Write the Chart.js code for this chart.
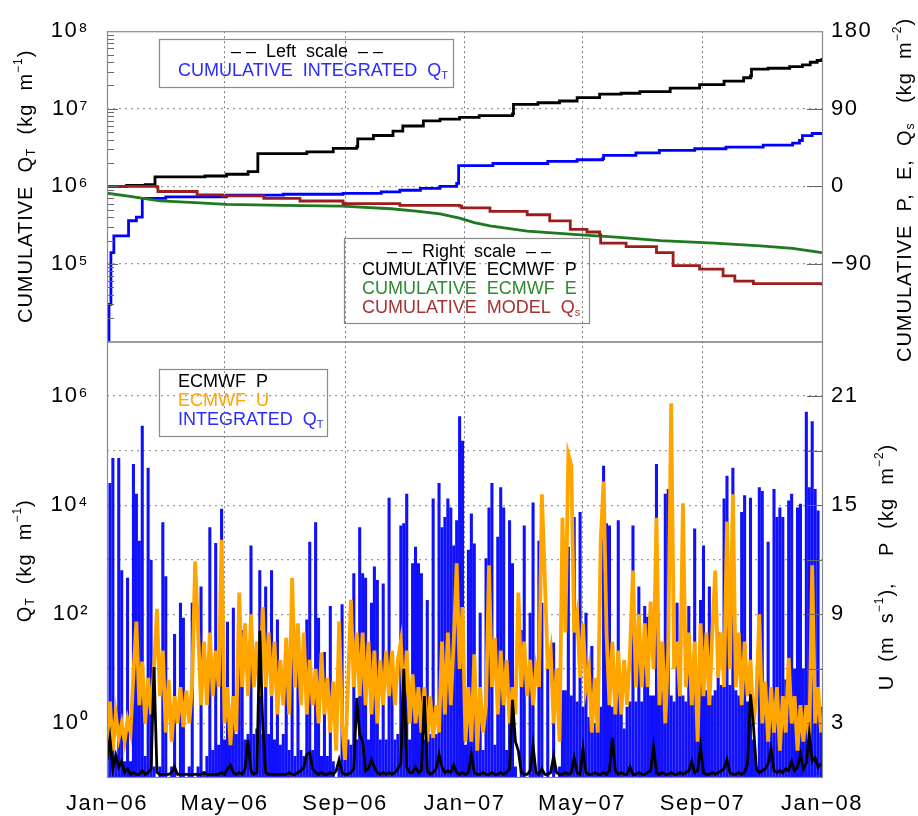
<!DOCTYPE html>
<html><head><meta charset="utf-8">
<script src="https://cdn.jsdelivr.net/npm/chart.js@4.4.1/dist/chart.umd.min.js"></script>
<style>html,body{margin:0;padding:0;background:#fff;}canvas{display:block;}</style>
</head><body>
<canvas id="c" width="918" height="816"></canvas>
<script>
const FONT = "'Liberation Sans', Arial, Helvetica, sans-serif";

// ---- x axis (days since 1 Jan 2006) ----
const xTickDays = [0, 120, 243, 365, 485, 608, 730];
const xTickLabels = ['Jan\u221206', 'May\u221206', 'Sep\u221206', 'Jan\u221207', 'May\u221207', 'Sep\u221207', 'Jan\u221208'];

// ---- axis ticks ----
const topLTickVals = [1e4, 1e5, 1e6, 1e7, 1e8];
const topLTickLabels = ['', '10\u2075', '10\u2076', '10\u2077', '10\u2078'];
const topRTickVals = [-180, -90, 0, 90, 180];
const topRTickLabels = ['', '\u221290', '0', '90', '180'];
const botLTickVals = [1e-1, 1e0, 1e1, 1e2, 1e3, 1e4, 1e5, 1e6, 1e7];
const botLTickLabels = ['', '10\u2070', '', '10\u00B2', '', '10\u2074', '', '10\u2076', ''];
const botRTickVals = [0, 3, 6, 9, 12, 15, 18, 21, 24];
const botRTickLabels = ['', '3', '', '9', '', '15', '', '21', ''];

// ---- top panel: cumulative series (day where the value starts, value) ----
const cumQDays = [0, 2, 4, 7, 22, 30, 36, 60, 122, 180, 241, 280, 299, 320, 340, 357, 359, 394, 450, 480, 506, 507, 540, 564, 600, 632, 670, 700, 707, 710, 720, 730];
const cumQ = [1e4, 3e4, 1.4e5, 2.3e5, 3.6e5, 4e5, 7e5, 7.3e5, 7.7e5, 7.9e5, 8.1e5, 8.5e5, 8.9e5, 9.4e5, 1.0e6, 1.09e6, 1.85e6, 1.97e6, 2.1e6, 2.2e6, 2.27e6, 2.5e6, 2.7e6, 2.9e6, 3.05e6, 3.2e6, 3.4e6, 3.6e6, 3.9e6, 4.5e6, 4.8e6, 5.0e6];

const cumPDays = [0, 20, 39, 49, 100, 122, 144, 154, 204, 231, 255, 256, 272, 292, 302, 323, 340, 360, 380, 414, 415, 440, 462, 480, 503, 525, 544, 575, 605, 630, 650, 657, 658, 675, 697, 710, 718, 725, 730];
const cumP = [0, 1, 2, 11, 12, 14, 17, 38, 40, 44, 46, 55, 59, 64, 70, 76, 78, 80, 82, 84, 95, 97, 99, 103, 107, 108, 110, 114, 118, 122, 126, 128, 136, 137, 139, 141, 144, 146, 149];

const cumEDays = [0, 20, 37, 54, 90, 122, 180, 240, 290, 318, 340, 360, 375, 391, 429, 480, 520, 565, 620, 667, 700, 730];
const cumE = [-8, -11, -14, -17, -19, -21, -22, -23, -26, -29, -32, -37, -42, -46, -52, -56, -59, -63, -66, -69, -72, -77];

const cumQsDays = [0, 51, 52, 92, 118, 160, 197, 241, 299, 360, 362, 391, 429, 452, 473, 490, 503, 504, 530, 561, 578, 605, 629, 641, 660, 730];
const cumQs = [0, -1, -6, -10, -11, -14, -17, -20, -22, -23, -25, -29, -33, -40, -50, -53, -56, -66, -70, -77, -92, -96, -104, -110, -113, -115];

// ---- bottom panel: values every 3 days ----
const STEP_DAYS = 3;
const dailyQ = [
0.32,2.5e4,7.2e4,0.25,7.2e4,630,0.2,460,0.2,5.6e4,
1.6e4,2200,2.8e5,0.25,4.8e4,980,0.16,0.03,0.16,4800,
490,0.03,0.16,43,0.03,160,85,0.03,0.16,160,
0.03,0.16,320,0.13,0.25,3900,0.32,2000,0.4,8500,
0.5,72,0.63,130,0.63,160,51,0.5,0.63,1800,
0.63,0.8,630,0.63,320,0.63,630,0.5,79,0.4,
0.63,26,0.32,89,0.25,22,0.32,0.25,79,2100,
0.32,4800,85,0.25,20,0.25,140,0.2,0.06,0.16,
150,0.32,0.5,0.4,560,0.5,3900,560,460,0.5,
160,740,420,0.5,360,0.5,1.35e4,9.8,0.5,0.63,
4200,4600,1.6e4,0.5,850,1700,850,560,0.5,180,
0.63,1.3e4,0.63,2.5e4,3900,6000,1.3e4,8900,1800,5200,
4.2e5,1.5e5,0.4,1500,6900,1950,0.32,105,0.32,1050,
8900,2.5e4,0.4,2600,2.1e4,8900,0.32,5200,850,0.16,
0.03,51,4200,0.1,105,1.1e4,0.13,2200,160,0.03,
15,0.03,30,0.03,0.16,4,4,1700,3.2,6000,
2.5,7400,2,105,1.3,26,1,1.6,2,5.2e4,
4600,4200,2,2.5,5200,2,0.8,2,2.5,4200,
2.5,320,2.5,140,89,3.2,3.2,5.6e4,3.2,4,
1.6e4,1.95e4,3.2,2.5,160,4,3.2,2.5,140,3.2,
3700,3.2,180,1800,4,320,3.2,4,46,5,
1.3e4,3.4e4,5,4.8e4,4,3.2,7400,1.5e4,2.5,1.35e4,
0.5,0.16,2.1e4,1.8e4,2,2100,4,1.95e4,6000,8900,
6000,6.3,1.2e4,1.6e4,10,8900,1.05e4,10,5.1e5,2.1e4,
3.4e5,1.95e4,7900,2];

const dailyU = [
2.0,4.2,1.5,3.5,2.2,3.0,2.0,3.2,2.5,5.7,
8.6,4.0,6.4,3.0,5.5,3.5,6.0,9.3,4.5,7.0,
2.5,5.4,2.0,4.5,3.0,5.0,2.8,4.8,3.0,5.2,
11.9,8.1,4.0,7.5,4.0,8.0,4.5,7.0,5.0,13.1,
3.0,5.0,1.8,4.5,2.5,10.2,5.0,8.5,4.5,9.0,
5.0,7.5,4.5,9.4,5.0,8.0,4.5,7.5,3.5,6.5,
4.0,7.7,3.5,11.0,5.0,8.5,4.0,8.0,3.5,6.5,
4.0,6.0,3.0,6.9,3.5,5.5,2.5,5.3,1.5,8.6,
3.0,1.0,5.0,9.8,5.0,8.0,4.5,8.0,4.0,7.5,
3.5,7.0,3.0,6.5,4.0,7.0,4.5,7.0,4.0,6.5,
7.5,4.0,7.0,3.0,5.7,3.0,5.0,2.5,5.0,2.0,
4.5,2.2,4.0,2.5,7.5,3.5,8.0,4.0,7.5,11.8,
6.0,9.4,2.0,5.0,2.0,6.8,1.5,5.0,2.5,4.0,
11.7,5.0,7.7,3.5,7.0,4.0,6.5,3.0,5.0,3.5,
10.2,5.0,7.5,4.5,6.5,4.0,6.0,5.0,15.6,11.0,
6.0,7.0,3.0,6.0,2.0,14.3,8.0,17.8,17.2,8.0,
9.0,5.5,8.5,5.0,6.0,2.5,5.5,2.5,13.0,16.3,
8.0,4.0,7.5,3.5,7.0,3.5,6.5,4.0,7.0,11.4,
5.0,9.0,5.0,8.5,5.0,9.7,6.0,14.3,4.0,7.5,
3.0,7.0,20.6,6.0,7.5,4.5,15.1,5.0,8.0,4.0,
7.5,2.0,8.5,4.5,8.0,4.0,8.0,11.4,5.5,8.0,
5.0,14.1,6.0,15.6,5.0,8.0,4.0,7.5,4.5,6.5,
3.0,4.5,9.0,3.0,5.3,2.0,5.0,2.5,5.0,1.5,
4.5,2.5,6.6,3.0,4.5,1.5,4.0,2.0,4.0,2.0,
11.7,3.0,5.0,2.5];

const dailyP = [
1.0,2.2,0.5,1.25,0.6,0.9,0.3,0.5,0.2,0.3,
0.2,0.2,0.4,0.2,0.3,0.5,6.1,0.3,0.2,0.2,
0.2,0.2,0.3,0.6,0.2,0.2,0.2,0.2,0.2,0.2,
0.2,0.2,0.2,0.3,0.2,0.2,0.2,0.2,0.2,0.3,
0.2,0.5,0.7,0.3,0.2,0.3,0.2,0.5,2.1,0.4,
0.2,0.3,8.1,3.0,0.3,0.2,0.2,0.2,0.2,0.2,
0.2,0.2,0.3,0.2,0.2,0.3,0.4,0.6,1.3,1.4,
0.5,0.3,0.2,0.3,0.2,0.2,0.3,0.2,0.4,1.0,
0.3,0.2,0.2,0.3,0.5,4.4,2.4,2.0,0.4,0.5,
1.0,0.6,0.3,0.2,0.3,0.2,0.3,0.2,0.3,0.5,
0.8,6.0,0.6,0.3,0.3,0.6,0.3,0.4,4.5,0.4,
0.2,0.3,0.5,1.3,0.6,0.3,0.4,0.3,0.7,0.3,
0.2,0.3,0.2,0.3,1.3,0.3,0.2,0.2,0.3,0.2,
0.2,0.3,0.2,0.2,0.3,0.2,0.3,0.5,4.3,2.0,
1.5,0.3,0.2,0.2,0.4,1.8,0.3,0.2,0.5,0.2,
0.2,0.3,1.2,0.3,0.2,0.2,0.3,0.2,0.3,1.1,
0.3,0.2,1.6,0.3,0.2,0.2,0.3,0.2,0.2,0.3,
0.2,0.4,2.2,0.4,0.2,0.3,0.2,0.2,0.6,0.2,
0.2,0.3,0.2,0.2,0.3,0.4,1.7,0.3,0.2,0.3,
0.2,0.2,0.3,0.2,0.2,0.3,0.2,0.3,0.4,0.9,
0.3,0.4,1.7,0.3,0.2,0.2,0.3,0.2,0.3,0.4,
0.5,1.0,0.3,0.2,0.2,0.3,0.2,0.3,0.8,4.6,
2.9,0.5,0.3,0.4,0.5,0.8,1.6,0.4,0.3,0.4,
0.3,0.5,0.4,0.9,0.4,0.6,1.3,0.5,0.8,2.4,
0.9,1.1,0.6,0.8];

// ---- helpers ----
const series = arr => arr.map((v, i) => ({x: i * STEP_DAYS, y: v}));
const pairs = (days, vals) => days.map((d, i) => ({x: d, y: vals[i]}));
const setTicks = vals => s => { s.ticks = vals.map(v => ({value: v})); };
const labelFrom = (vals, labels) => v => { const i = vals.indexOf(v); return i >= 0 ? labels[i] : ''; };
const edgeClear = (lo, hi) => c => (c.tick && (c.tick.value === lo || c.tick.value === hi)) ? 'rgba(0,0,0,0)' : '#9a9a9a';

function drawRich(ctx, parts, x, y, size, align) {
  let w = 0;
  const segs = parts.map(p => {
    const [t, m, col] = p;
    const fs = m ? Math.round(size * 0.62) : size;
    ctx.font = fs + 'px ' + FONT;
    const tw = ctx.measureText(t).width;
    const dy = m === 'sub' ? size * 0.28 : (m === 'sup' ? -size * 0.38 : 0);
    w += tw;
    return {t, fs, tw, dy, col};
  });
  let cx = align === 'center' ? x - w / 2 : (align === 'right' ? x - w : x);
  ctx.textBaseline = 'middle';
  ctx.textAlign = 'left';
  for (const s of segs) {
    ctx.font = s.fs + 'px ' + FONT;
    if (s.col) ctx.fillStyle = s.col;
    ctx.fillText(s.t, cx, y + s.dy);
    cx += s.tw;
  }
}

const decor = {
  id: 'decor',
  beforeDraw(chart) { chart.ctx.letterSpacing = '1.5px'; },
  afterDraw(chart) {
    const ctx = chart.ctx;
    const a = chart.chartArea;
    const sTL = chart.scales.yTopL, sBL = chart.scales.yBotL, sTR = chart.scales.yTopR, sBR = chart.scales.yBotR;
    ctx.save();
    ctx.letterSpacing = '0px';
    const line = (x1, y1, x2, y2) => { ctx.beginPath(); ctx.moveTo(x1, y1); ctx.lineTo(x2, y2); ctx.stroke(); };
    // inner tick marks
    ctx.strokeStyle = '#666'; ctx.lineWidth = 1;
    for (let e = 4; e < 8; e++) {
      for (let m = 1; m < 10; m++) {
        const v = m * Math.pow(10, e);
        if (v <= topLTickVals[0]) continue;
        const y = Math.round(sTL.getPixelForValue(v)) + 0.5;
        line(a.left, y, a.left + (m === 1 ? 11 : 7), y);
      }
    }
    for (const v of topRTickVals) {
      if (v === topRTickVals[0] || v === topRTickVals[topRTickVals.length - 1]) continue;
      const y = Math.round(sTR.getPixelForValue(v)) + 0.5;
      line(a.right - 15, y, a.right, y);
    }
    for (const v of botRTickVals) {
      if (v === botRTickVals[0] || v === botRTickVals[botRTickVals.length - 1]) continue;
      const y = Math.round(sBR.getPixelForValue(v)) + 0.5;
      line(a.right - 15, y, a.right, y);
    }
    // panel frames
    ctx.strokeStyle = '#8a8a8a'; ctx.lineWidth = 1.2;
    ctx.strokeRect(a.left + 0.5, sTL.top + 0.5, a.right - a.left, sTL.bottom - sTL.top);
    ctx.strokeRect(a.left + 0.5, sBL.top + 0.5, a.right - a.left, sBL.bottom - sBL.top - 1);

    // axis titles
    ctx.fillStyle = '#000';
    ctx.letterSpacing = '1px';
    const rot = (x, y, fn) => { ctx.save(); ctx.translate(x, y); ctx.rotate(-Math.PI / 2); fn(); ctx.restore(); };
    rot(26, (sTL.top + sTL.bottom) / 2, () => drawRich(ctx, [['CUMULATIVE  Q'], ['T', 'sub'], ['  (kg  m'], ['\u22121', 'sup'], [')']], 0, 0, 20, 'center'));
    rot(905, 190, () => drawRich(ctx, [['CUMULATIVE  P,  E,  Q'], ['s', 'sub'], ['   (kg  m'], ['\u22122', 'sup'], [')']], 0, 0, 20, 'center'));
    rot(25, (sBL.top + sBL.bottom) / 2 + 1, () => drawRich(ctx, [['Q'], ['T', 'sub'], ['  (kg  m'], ['\u22121', 'sup'], [')']], 0, 0, 20, 'center'));
    rot(887, 567, () => drawRich(ctx, [['U  (m  s'], ['\u22121', 'sup'], ['),    P  (kg  m'], ['\u22122', 'sup'], [')']], 0, 0, 20, 'center'));

    // legends
    ctx.letterSpacing = '0px';
    ctx.strokeStyle = '#8a8a8a'; ctx.lineWidth = 1.2;
    ctx.strokeRect(159.5, 39.5, 294, 48);
    drawRich(ctx, [['\u2013 \u2013  Left  scale  \u2013 \u2013', null, '#000']], 307, 52, 18, 'center');
    drawRich(ctx, [['CUMULATIVE  INTEGRATED  Q', null, '#2b2bff'], ['T', 'sub']], 178, 71, 18, 'left');

    ctx.strokeRect(344.5, 238.5, 245, 85);
    drawRich(ctx, [['\u2013 \u2013  Right  scale  \u2013 \u2013', null, '#000']], 469, 252, 18, 'center');
    drawRich(ctx, [['CUMULATIVE  ECMWF  P', null, '#000']], 362, 270, 18, 'left');
    drawRich(ctx, [['CUMULATIVE  ECMWF  E', null, '#2f8a2f']], 362, 289, 18, 'left');
    drawRich(ctx, [['CUMULATIVE  MODEL  Q', null, '#a83232'], ['s', 'sub']], 362, 308, 18, 'left');

    ctx.strokeRect(159.5, 369.5, 168, 67);
    drawRich(ctx, [['ECMWF  P', null, '#000']], 178, 382, 18, 'left');
    drawRich(ctx, [['ECMWF  U', null, '#ffa500']], 178, 401, 18, 'left');
    drawRich(ctx, [['INTEGRATED  Q', null, '#2b2bff'], ['T', 'sub']], 178, 420, 18, 'left');
    ctx.restore();
  }
};

Chart.defaults.font.family = FONT;
Chart.defaults.color = '#000';

const tickFont = {size: 22, family: FONT};

new Chart(document.getElementById('c').getContext('2d'), {
  type: 'line',
  data: {
    datasets: [
      {label: 'CUMULATIVE MODEL Qs', data: pairs(cumQsDays, cumQs), yAxisID: 'yTopR', borderColor: '#9c1d1d', borderWidth: 2.8, stepped: true, order: 1},
      {label: 'CUMULATIVE ECMWF E', data: pairs(cumEDays, cumE), yAxisID: 'yTopR', borderColor: '#1f7a1f', borderWidth: 2.8, order: 2},
      {label: 'CUMULATIVE ECMWF P', data: pairs(cumPDays, cumP), yAxisID: 'yTopR', borderColor: '#000', borderWidth: 2.8, stepped: true, order: 3},
      {label: 'CUMULATIVE INTEGRATED QT', data: pairs(cumQDays, cumQ), yAxisID: 'yTopL', borderColor: '#0000ff', borderWidth: 2.8, stepped: true, order: 4},
      {label: 'ECMWF P', data: series(dailyP), yAxisID: 'yBotR', borderColor: '#000', borderWidth: 2.8, order: 5},
      {label: 'ECMWF U', data: series(dailyU), yAxisID: 'yBotR', borderColor: '#ffa500', borderWidth: 3.8, order: 6},
      {type: 'bar', label: 'INTEGRATED QT', data: series(dailyQ), yAxisID: 'yBotL', backgroundColor: '#1010fa', borderWidth: 0, barThickness: 2.4, order: 7}
    ]
  },
  options: {
    responsive: false,
    animation: false,
    events: [],
    layout: {padding: {top: 27, left: 0, right: 0, bottom: 0}},
    elements: {point: {radius: 0}, line: {tension: 0}},
    plugins: {legend: {display: false}, tooltip: {enabled: false}},
    scales: {
      x: {
        type: 'linear', position: 'bottom', min: 0, max: 730, offset: false,
        afterBuildTicks: setTicks(xTickDays),
        afterFit: s => { s.height = 38; },
        ticks: {autoSkip: false, maxRotation: 0, padding: 13, font: tickFont, color: '#000', callback: labelFrom(xTickDays, xTickLabels)},
        grid: {color: '#7a7a7a', lineWidth: 1, drawTicks: false, offset: false},
        border: {display: false, dash: [2, 3]}
      },
      yBotL: {
        type: 'logarithmic', position: 'left', stack: 'L', stackWeight: 439, min: 0.1, max: 1e7,
        afterBuildTicks: setTicks(botLTickVals),
        afterFit: s => { s.width = 107; },
        ticks: {autoSkip: false, padding: 18, font: tickFont, color: '#000', callback: labelFrom(botLTickVals, botLTickLabels)},
        grid: {color: edgeClear(0.1, 1e7), lineWidth: 1.2, drawTicks: false},
        border: {display: false, dash: [2, 4]}
      },
      yTopL: {
        type: 'logarithmic', position: 'left', stack: 'L', stackWeight: 312, min: 1e4, max: 1e8,
        afterBuildTicks: setTicks(topLTickVals),
        afterFit: s => { s.width = 107; },
        ticks: {autoSkip: false, padding: 18, font: tickFont, color: '#000', callback: labelFrom(topLTickVals, topLTickLabels)},
        grid: {color: edgeClear(1e4, 1e8), lineWidth: 1.2, drawTicks: false},
        border: {display: false, dash: [2, 4]}
      },
      yTopR: {
        type: 'linear', position: 'right', stack: 'R', stackWeight: 312, min: -180, max: 180,
        afterBuildTicks: setTicks(topRTickVals),
        afterFit: s => { s.width = 96; },
        ticks: {autoSkip: false, padding: 9, font: tickFont, color: '#000', callback: labelFrom(topRTickVals, topRTickLabels)},
        grid: {display: false, drawTicks: false},
        border: {display: false}
      },
      yBotR: {
        type: 'linear', position: 'right', stack: 'R', stackWeight: 439, min: 0, max: 24,
        afterBuildTicks: setTicks(botRTickVals),
        afterFit: s => { s.width = 96; },
        ticks: {autoSkip: false, padding: 9, font: tickFont, color: '#000', callback: labelFrom(botRTickVals, botRTickLabels)},
        grid: {display: false, drawTicks: false},
        border: {display: false}
      }
    }
  },
  plugins: [decor]
});
</script>
</body></html>
